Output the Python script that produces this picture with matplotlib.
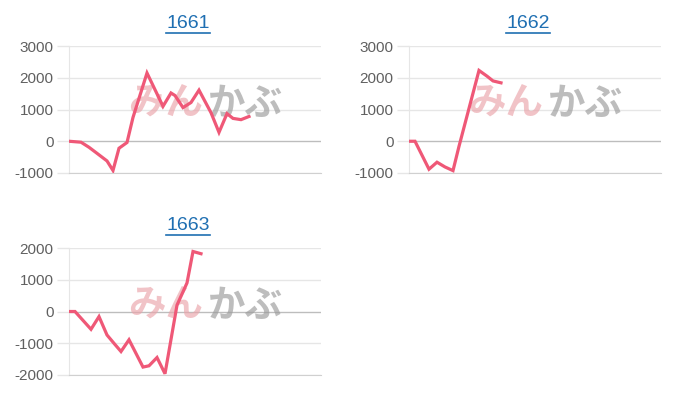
import numpy as np
from matplotlib import pyplot as plt
from matplotlib.lines import Line2D

# data (x in day-ish units, y in yen)
codes = ["1661", "1662", "1663"]

x1661 = [0, 3, 5, 7, 9.5, 11, 12.5, 14.5, 16, 19.5, 23.5, 25.5, 26.5, 28.5, 30.5, 32.5, 35.5, 37.5, 39.5, 41, 43, 45]
y1661 = [0, -30, -190, -380, -620, -920, -220, -40, 750, 2150, 1100, 1520, 1440, 1060, 1220, 1610, 900, 280, 870, 720, 680, 780]

x1662 = [0, 1.5, 5, 7, 9, 11, 12.5, 17.5, 19.5, 21, 23]
y1662 = [0, 0, -880, -660, -810, -925, -160, 2230, 2050, 1900, 1840]

x1663 = [0, 1.5, 5.5, 7.5, 9.5, 11.5, 13, 15, 18.5, 20, 22, 24, 27, 29.5, 31, 33]
y1663 = [0, 0, -560, -160, -740, -1040, -1260, -890, -1750, -1710, -1450, -1960, 200, 900, 1890, 1820]

yticks_top = [-1000, 0, 1000, 2000, 3000]
yticks_bottom = [-2000, -1000, 0, 1000, 2000]

plt.rcParams['font.family'] = ['Liberation Sans', 'DejaVu Sans']

line_color = '#ef5877'
grid_color = '#e6e6e6'
zero_color = '#bdbdbd'
title_color = '#1f6fb2'

fig = plt.figure(figsize=(7, 4), dpi=100)

panels = [
    (codes[0], x1661, y1661, yticks_top, [69 / 700, 227 / 400]),
    (codes[1], x1662, y1662, yticks_top, [409 / 700, 227 / 400]),
    (codes[2], x1663, y1663, yticks_bottom, [69 / 700, 25 / 400]),
]

titles = []
for code, xs, ys, ticks, pos in panels:
    ax = fig.add_axes([pos[0], pos[1], 252 / 700, 127 / 400])
    ax.set_xlim(0, 63)
    ax.set_ylim(ticks[0], ticks[-1])
    ax.set_yticks(ticks)
    ax.set_yticklabels([str(t) for t in ticks])
    ax.set_xticks([])
    ax.tick_params(axis='y', length=9, width=1, color=grid_color, pad=2,
                   labelsize=11, labelcolor='#606060')
    for t in ticks:
        c = zero_color if t == 0 else grid_color
        ax.axhline(t, color=c, lw=1, zorder=1)
    for s in ['top', 'right']:
        ax.spines[s].set_visible(False)
    ax.spines['left'].set_color(grid_color)
    ax.spines['bottom'].set_color('#d0d0d0')

    # watermark logo
    ax.text(0.385, 0.55, 'みん', transform=ax.transAxes, ha='center', va='center',
            fontsize=27, fontweight='bold', color='#eaa3a9', alpha=0.65,
            family=['Noto Sans CJK JP', 'DejaVu Sans'], zorder=2)
    ax.text(0.70, 0.55, 'かぶ', transform=ax.transAxes, ha='center', va='center',
            fontsize=27, fontweight='bold', color='#9a9a9a', alpha=0.65,
            family=['Noto Sans CJK JP', 'DejaVu Sans'], zorder=2)

    ax.plot(xs, ys, color=line_color, lw=2.3, solid_joinstyle='miter', zorder=3)

    # title centred over labels + plot area, like a link
    cx = (pos[0] * 700 + 119) / 700
    ty = pos[1] + (127 + 23) / 400
    titles.append(fig.text(cx, ty, code, ha='center', va='center',
                           fontsize=14, color=title_color))

# underline the titles
fig.canvas.draw()
r = fig.canvas.get_renderer()
for t in titles:
    bb = t.get_window_extent(r)
    fig.add_artist(Line2D([bb.x0 / 700, bb.x1 / 700], [(bb.y0 - 1) / 400, (bb.y0 - 1) / 400],
                          transform=fig.transFigure, color=title_color, lw=1.2))

plt.savefig('out.png')
